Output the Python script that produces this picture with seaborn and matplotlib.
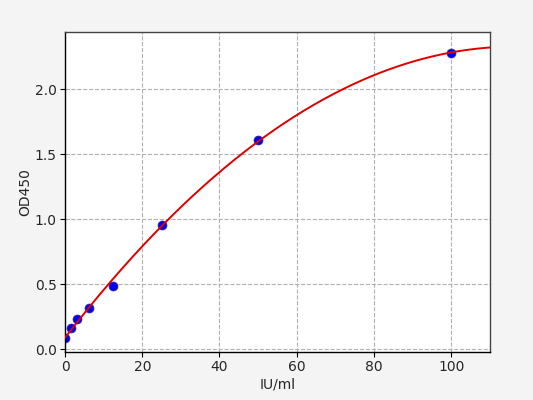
import numpy as np
import pandas as pd
import matplotlib
matplotlib.use("Agg")
import matplotlib.pyplot as plt
import seaborn as sns

conc = [0, 1.5625, 3.125, 6.25, 12.5, 25, 50, 100]
od = [0.09, 0.165, 0.23, 0.32, 0.49, 0.96, 1.61, 2.28]

sns.set_style("ticks")
plt.rcParams['font.family'] = ['DejaVu Sans']

fig = plt.figure(figsize=(5.33, 4.0), dpi=100, facecolor="#f4f4f4")
ax = fig.add_axes([0.122, 0.12, 0.797, 0.80])
ax.set_facecolor("white")

pts = pd.DataFrame({"x": conc, "y": od})
sns.scatterplot(data=pts, x="x", y="y", ax=ax, color="#0000ee", edgecolor="#3030a0",
                s=42, linewidth=0.5, zorder=2)
coef = np.polyfit(conc, od, 2)
xs = np.linspace(0, 110, 300)
fit = pd.DataFrame({"x": xs, "y": np.polyval(coef, xs)})
sns.lineplot(data=fit, x="x", y="y", ax=ax, color="#dd0000", linewidth=1.4, zorder=3)

ax.set_xlim(0, 110)
ax.set_ylim(-0.02, 2.44)
ax.set_xticks([0, 20, 40, 60, 80, 100])
ax.set_yticks([0.0, 0.5, 1.0, 1.5, 2.0])
ax.set_yticklabels(["0.0", "0.5", "1.0", "1.5", "2.0"])
ax.grid(True, linestyle="--", color="#b0b0b0", linewidth=0.8)
ax.set_axisbelow(True)
ax.set_xlabel("IU/ml", fontsize=10, labelpad=2)
ax.set_ylabel("OD450", fontsize=10, labelpad=2)
ax.tick_params(labelsize=10, direction="out", length=3.5, width=0.8, color="black", pad=2.5)
for s in ax.spines.values():
    s.set_visible(True)
    s.set_color("#444444")
    s.set_linewidth(1.0)
ax.spines["left"].set_color("black")
ax.spines["bottom"].set_color("black")

fig.savefig("out.png", dpi=100, facecolor=fig.get_facecolor())
